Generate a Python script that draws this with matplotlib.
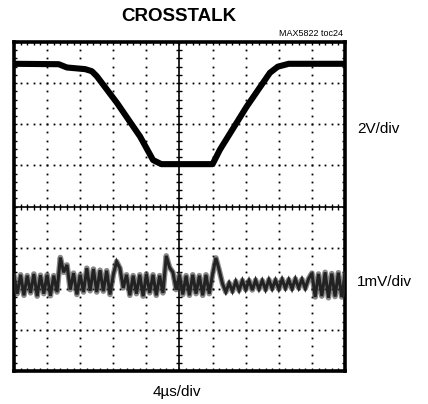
import numpy as np
import matplotlib
matplotlib.use("Agg")
import matplotlib.pyplot as plt

# ---- data (screen divisions: x 0..10, y -4..4) ----
title = "CROSSTALK"
tag = "MAX5822 toc24"
ch1_label = "2V/div"
ch2_label = "1mV/div"
time_label = "4\u00b5s/div"

# Channel 1 (large step, 2V/div)
ch1_x = [0.0, 1.35, 1.6, 2.15, 2.35, 2.5, 3.11, 3.81, 4.2, 4.45, 6.0, 6.22, 7.03, 7.73, 7.97, 8.3, 10.0]
ch1_y = [3.47, 3.46, 3.38, 3.34, 3.29, 3.17, 2.52, 1.70, 1.13, 1.03, 1.03, 1.38, 2.43, 3.25, 3.40, 3.47, 3.47]

# Channel 2 (crosstalk, 1mV/div), samples every 0.1 div
ch2_y = [
    -1.70, -2.12, -1.66, -2.16, -1.68, -2.10, -1.64, -2.18, -1.67, -2.12,
    -1.66, -2.17, -1.68, -2.08, -1.24, -1.60, -1.42, -2.02, -1.62, -2.14,
    -1.66, -2.08, -1.50, -2.05, -1.52, -2.08, -1.55, -2.06, -1.56, -2.14,
    -1.66, -1.34, -1.50, -1.98, -1.66, -2.16, -1.68, -2.12, -1.66, -2.18,
    -1.64, -2.10, -1.66, -2.16, -1.68, -2.10, -1.20, -1.48, -1.60, -2.02,
    -1.66, -2.14, -1.68, -2.16, -1.66, -2.12, -1.68, -2.16, -1.66, -2.12,
    -1.64, -1.25, -1.55, -1.88, -2.08, -1.86, -2.06, -1.82, -2.04, -1.80,
    -2.02, -1.80, -2.03, -1.79, -2.01, -1.80, -2.02, -1.78, -2.00, -1.79,
    -2.01, -1.77, -1.99, -1.78, -2.00, -1.76, -1.98, -1.77, -1.99, -1.76,
    -1.62, -2.20, -1.64, -2.18, -1.60, -2.22, -1.63, -2.19, -1.61, -2.20,
    -1.65,
]
ch2_x = np.linspace(0, 10, len(ch2_y))

# ---- figure ----
W, H = 428, 404
fig = plt.figure(figsize=(W / 100, H / 100), dpi=100)
fig.patch.set_facecolor("white")
ax = fig.add_axes([14 / W, (H - 371) / H, 331 / W, 329 / H])
ax.set_xlim(0, 10)
ax.set_ylim(-4, 4)

fam = ["Liberation Sans Narrow", "Liberation Sans", "DejaVu Sans"]

# dotted graticule
minor_x = np.arange(0, 10.001, 0.2)
minor_y = np.arange(-4, 4.001, 0.2)
for gx in range(1, 10):
    if gx == 5:
        continue
    ax.plot(np.full_like(minor_y, gx), minor_y, ls="none", marker="s",
            ms=1.3, mew=0, color="black", zorder=1)
for gy in range(-3, 4):
    if gy == 0:
        continue
    ax.plot(minor_x, np.full_like(minor_x, gy), ls="none", marker="s",
            ms=1.3, mew=0, color="black", zorder=1)

# centre cross with tick marks
ax.axhline(0, color="black", lw=1.2, zorder=2)
ax.axvline(5, color="black", lw=1.2, zorder=2)
ax.plot(minor_x, np.zeros_like(minor_x), ls="none", marker="|", ms=5,
        mew=1.0, color="black", zorder=2)
ax.plot(np.full_like(minor_y, 5), minor_y, ls="none", marker="_", ms=5,
        mew=1.0, color="black", zorder=2)

# traces
ax.plot(ch1_x, ch1_y, color="black", lw=4.4, solid_joinstyle="round",
        solid_capstyle="butt", zorder=3)
ax.plot(ch2_x, ch2_y, color="#3a3a3a", lw=4.0, alpha=0.6,
        solid_joinstyle="round", zorder=3)
ax.plot(ch2_x, ch2_y, color="#222222", lw=2.2, solid_joinstyle="miter",
        zorder=3)

# frame
for s in ax.spines.values():
    s.set_linewidth(2.6)
ax.set_xticks(range(0, 11))
ax.set_yticks(range(-4, 5))
ax.set_xticks(minor_x, minor=True)
ax.set_yticks(minor_y, minor=True)
ax.tick_params(which="both", direction="in", top=True, right=True,
               length=2.5, width=1, labelleft=False, labelbottom=False)

# texts
fig.text(178.5 / W, 1 - 16.5 / H, title, ha="center", va="center",
         fontsize=13.5, fontweight="bold", family=fam)
fig.text(343 / W, 1 - 33 / H, tag, ha="right", va="center",
         fontsize=6.5, family=fam)
fig.text(357 / W, 1 - 129 / H, ch1_label, ha="left", va="center",
         fontsize=11, family=fam)
fig.text(357 / W, 1 - 282 / H, ch2_label, ha="left", va="center",
         fontsize=11, family=fam)
fig.text(176.5 / W, 1 - 392 / H, time_label, ha="center", va="center",
         fontsize=11, family=fam)

fig.savefig("out.png", dpi=100, facecolor="white")
